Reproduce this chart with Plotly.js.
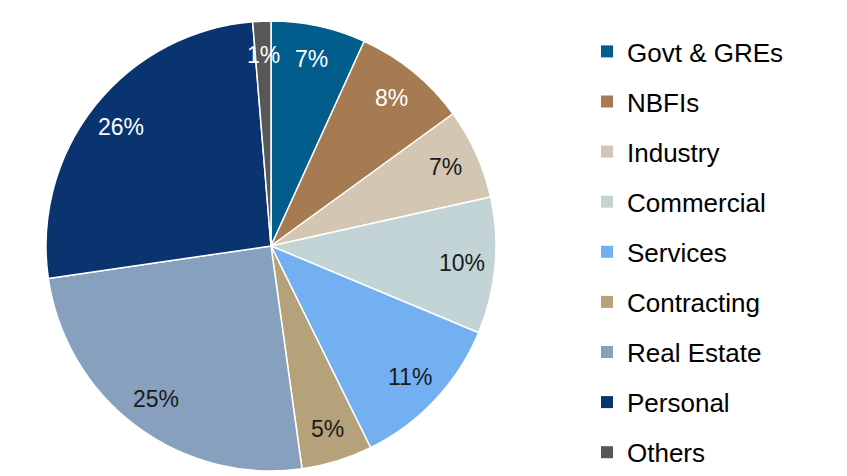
<!DOCTYPE html>
<html><head><meta charset="utf-8">
<script src="https://cdn.plot.ly/plotly-3.0.1.min.js"></script>
<style>html,body{margin:0;padding:0;background:#fff;}</style>
</head><body>
<div id="chart" style="width:847px;height:476px;"></div>
<script>
const labels = ["Govt & GREs","NBFIs","Industry","Commercial","Services","Contracting","Real Estate","Personal","Others"];
const values = [6.8, 8.2, 6.5, 9.8, 11.4, 5.1, 24.9, 26.0, 1.3];
const colors = ["#035d8c","#a67b52","#d3c6b2","#c3d4d6","#72b0f2","#b5a17a","#87a0be","#0a3470","#575757"];
const textColors = ["#ffffff","#ffffff","#1a1a1a","#1a1a1a","#1a1a1a","#1a1a1a","#1a1a1a","#ffffff","#ffffff"];

const W = 847, H = 476;
const cx = 271, cy = 246, R = 225;
const domX = [(cx - R) / W, (cx + R) / W];
const domY = [1 - (cy + R) / H, 1 - (cy - R) / H];

const total = values.reduce((a, b) => a + b, 0);
const annotations = [];
let cum = 0;
values.forEach((v, i) => {
  const mid = (cum + v / 2) / total * 2 * Math.PI;
  cum += v;
  const rr = R * 0.85;
  const px = cx + rr * Math.sin(mid);
  const py = cy - rr * Math.cos(mid);
  annotations.push({
    xref: 'paper', yref: 'paper', x: px / W, y: 1 - py / H,
    text: Math.round(v / total * 100) + '%', showarrow: false,
    xanchor: 'center', yanchor: 'middle',
    font: {family: 'Liberation Sans, Arial, sans-serif', size: 23, color: textColors[i]}
  });
});

const traces = [{
  type: 'pie', labels: labels, values: values, sort: false,
  direction: 'clockwise', rotation: 0,
  marker: {colors: colors, line: {color: '#ffffff', width: 1.5}},
  textinfo: 'none', hoverinfo: 'none', showlegend: false,
  domain: {x: domX, y: domY}
}];
labels.forEach((lab, i) => {
  traces.push({
    type: 'scatter', x: [null], y: [null], mode: 'markers', name: lab,
    legendgroup: lab, showlegend: true,
    marker: {symbol: 'square', size: 12, color: colors[i]}
  });
});

const layout = {
  width: W, height: H,
  margin: {l: 0, r: 0, t: 0, b: 0},
  paper_bgcolor: '#ffffff', plot_bgcolor: 'rgba(0,0,0,0)',
  xaxis: {visible: false}, yaxis: {visible: false},
  showlegend: true,
  legend: {
    x: 587 / W, xanchor: 'left', y: 1 - 32 / H, yanchor: 'top',
    font: {family: 'Liberation Sans, Arial, sans-serif', size: 26, color: '#000000'},
    tracegroupgap: 13.3, bgcolor: 'rgba(0,0,0,0)', itemclick: false
  },
  annotations: annotations
};
Plotly.newPlot('chart', traces, layout, {displayModeBar: false, staticPlot: true});
</script>
</body></html>
